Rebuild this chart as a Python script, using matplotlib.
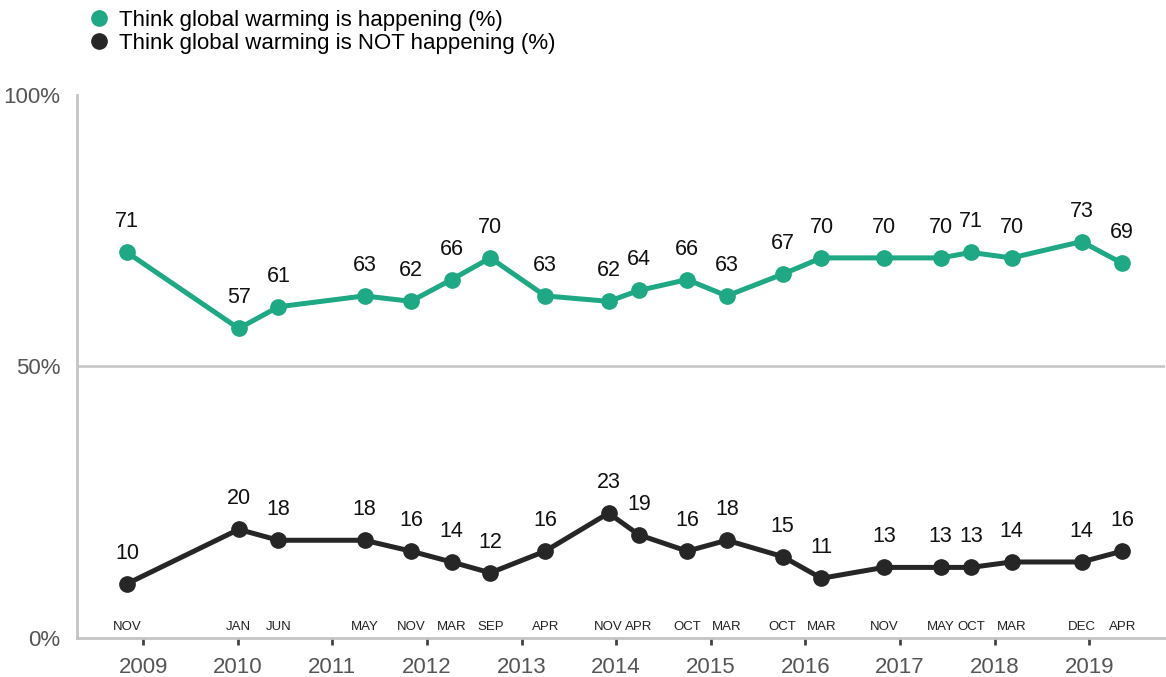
import matplotlib
matplotlib.use('Agg')
import matplotlib.pyplot as plt
from matplotlib.lines import Line2D

# ─── Data ─────────────────────────────────────────────────
# survey dates as decimal years
survey_time = [2008.83, 2010.01, 2010.43, 2011.34, 2011.83, 2012.26, 2012.67,
               2013.25, 2013.92, 2014.24, 2014.75, 2015.17, 2015.76, 2016.17,
               2016.83, 2017.43, 2017.75, 2018.18, 2018.92, 2019.35]
survey_month = ['NOV', 'JAN', 'JUN', 'MAY', 'NOV', 'MAR', 'SEP', 'APR', 'NOV', 'APR',
                'OCT', 'MAR', 'OCT', 'MAR', 'NOV', 'MAY', 'OCT', 'MAR', 'DEC', 'APR']
happening     = [71, 57, 61, 63, 62, 66, 70, 63, 62, 64, 66, 63, 67, 70, 70, 70, 71, 70, 73, 69]
not_happening = [10, 20, 18, 18, 16, 14, 12, 16, 23, 19, 16, 18, 15, 11, 13, 13, 13, 14, 14, 16]
years = list(range(2009, 2020))
y_ticks = [0, 50, 100]

series_labels = ['Think global warming is happening (%)',
                 'Think global warming is NOT happening (%)']

# ─── Style ────────────────────────────────────────────────
C = {'green': '#1ea883', 'black': '#262626', 'axis': '#c4c4c4', 'tick': '#555555'}
plt.rcParams['font.family'] = ['Liberation Sans', 'DejaVu Sans']

fig = plt.figure(figsize=(11.66, 6.77), dpi=100)
ax = fig.add_axes([0.066, 0.0576, 0.933, 0.8021])

for vals, col in [(happening, C['green']), (not_happening, C['black'])]:
    ax.plot(survey_time, vals, '-o', color=col, lw=3.6, ms=11, zorder=3,
            solid_capstyle='round')
    for t, v in zip(survey_time, vals):
        ax.annotate(str(v), (t, v), xytext=(0, 18), textcoords='offset points',
                    ha='center', va='baseline', fontsize=15.5, color='#111111')

# month labels just above the axis line
for t, m in zip(survey_time, survey_month):
    ax.annotate(m, (t, 0), xytext=(0, 3.5), textcoords='offset points',
                ha='center', va='bottom', fontsize=9.5, color='#222222')

ax.axhline(50, color=C['axis'], lw=1.8, zorder=1)

ax.set_xlim(2008.30, 2019.80)
ax.set_ylim(0, 100)
ax.set_yticks(y_ticks)
ax.set_yticklabels([f'{v}%' for v in y_ticks])
ax.set_xticks(years)
ax.set_xticklabels([str(y) for y in years])

for s in ['top', 'right']:
    ax.spines[s].set_visible(False)
for s in ['left', 'bottom']:
    ax.spines[s].set_color(C['axis'])
    ax.spines[s].set_linewidth(2)

ax.tick_params(axis='y', length=0, pad=12, labelsize=16, labelcolor=C['tick'])
ax.tick_params(axis='x', length=5, width=2, color='#444444', pad=9,
               labelsize=16, labelcolor=C['tick'])

handles = [Line2D([], [], ls='', marker='o', ms=11, color=C['green']),
           Line2D([], [], ls='', marker='o', ms=11, color=C['black'])]
fig.legend(handles, series_labels, loc='upper left', bbox_to_anchor=(0.068, 0.999),
           frameon=False, fontsize=16, handlelength=1.0, handletextpad=0.4,
           labelspacing=0.1, borderaxespad=0)

fig.savefig('out.png', dpi=100)
